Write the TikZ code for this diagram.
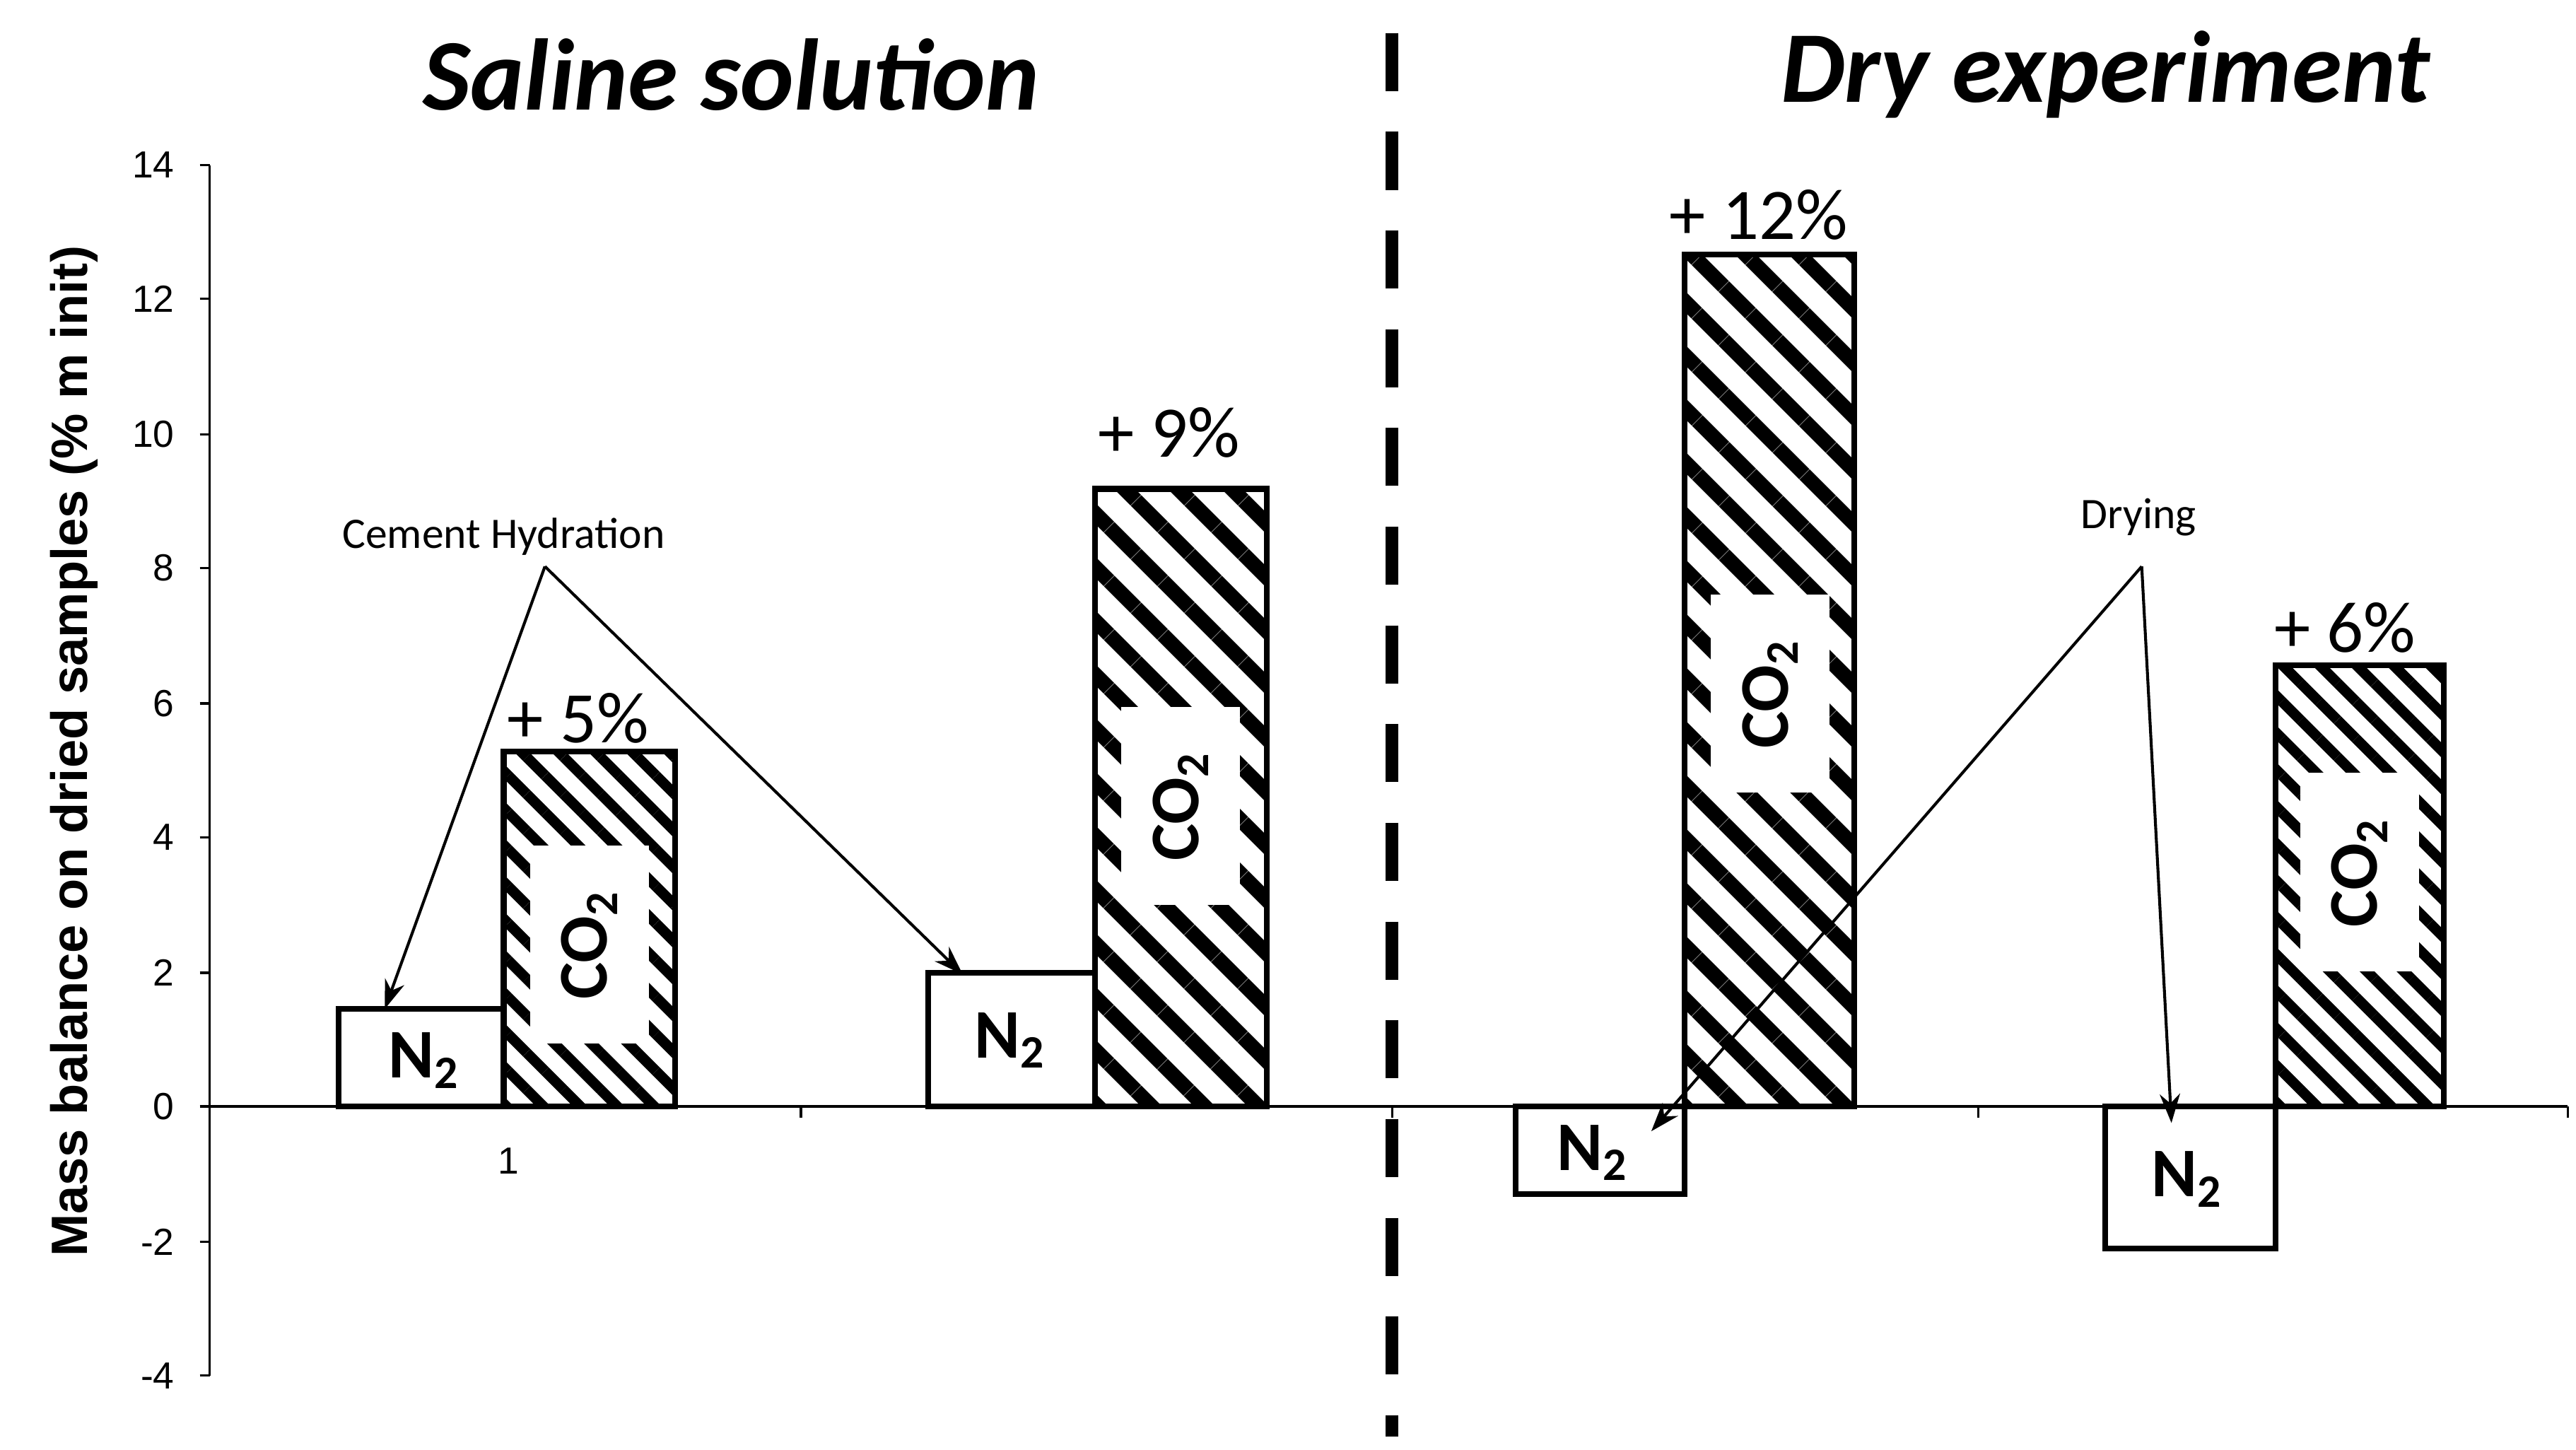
\documentclass[tikz,border=0pt]{standalone}
\usepackage{fontspec}
\setmainfont{Carlito}
\newfontfamily\arialf{Liberation Sans}
\usetikzlibrary{patterns.meta,arrows.meta}
\begin{document}
\begin{tikzpicture}[x=0.01cm,y=-0.01cm,
    bar/.style={draw=black, line width=1pt, fill=white},
    hatch/.style={draw=black, line width=1pt, pattern={Lines[angle=-45,distance=6.5pt,line width=2.6pt]}},
    fine-hatch/.style={draw=black, line width=1pt, pattern={Lines[angle=-45,distance=4.5pt,line width=1.8pt]}},
    gas/.style={font=\fontsize{12}{13}\selectfont\bfseries},
    co-label/.style={fill=white, rotate=90, inner sep=2pt, minimum width=1.2cm, minimum height=0.72cm, font=\fontsize{12}{13}\selectfont\bfseries},
    pct/.style={font=\fontsize{12.5}{14}\selectfont},
    tick-label/.style={anchor=east, font=\arialf\fontsize{6.5}{7}\selectfont},
    note/.style={font=\fontsize{7.5}{8}\selectfont},
    leader/.style={line width=0.5pt, -{Stealth[length=5pt,width=3.5pt]}}
  ]
  \useasboundingbox (0,0) rectangle (1560,878);

  % Axes
  \draw[line width=0.4pt] (127,100) -- (127,833);
  \foreach \v/\py in {14/100,12/181,10/263,8/344,6/426,4/507,2/589,0/670,-2/752,-4/833} {
    \draw[line width=0.4pt] (121,\py) -- (127,\py);
    \node[tick-label] at (118,\py) {\v};
  }
  \draw[line width=0.4pt] (127,670) -- (1555,670);
  \foreach \px in {485,843,1198,1555}
    \draw[line width=0.4pt] (\px,670) -- (\px,677);
  \node[font=\arialf\fontsize{6.5}{7}\selectfont] at (308,703) {1};
  \node[rotate=90, font=\arialf\fontsize{8.8}{10}\selectfont\bfseries] at (45,455) {Mass balance on dried samples (\% m init)};

  % Separator and titles
  \draw[line width=2.2pt, dash pattern=on 10pt off 7pt] (843,20) -- (843,870);
  \node[font=\fontsize{17.5}{20}\selectfont\bfseries\itshape] (saline) at (443,45) {Saline solution};
  \node[font=\fontsize{17.5}{20}\selectfont\bfseries\itshape] (dry) at (1275,45) {Dry experiment};

  % Bars
  \draw[bar] (205,670) rectangle (305,611);
  \draw[fine-hatch] (305,670) rectangle (409,455);
  \draw[bar] (562,670) rectangle (663,589);
  \draw[hatch] (663,670) rectangle (767,296);
  \draw[bar] (918,670) rectangle (1020,723);
  \draw[hatch] (1020,670) rectangle (1123,154);
  \draw[bar] (1275,670) rectangle (1378,756);
  \draw[fine-hatch] (1378,670) rectangle (1480,403);

  % Bar labels
  \node[gas] (n-a) at (257,642) {N\textsubscript{2}};
  \node[gas] (n-b) at (612,630) {N\textsubscript{2}};
  \node[gas] (n-c) at (965,698) {N\textsubscript{2}};
  \node[gas] (n-d) at (1325,714) {N\textsubscript{2}};
  \node[co-label] (co-a) at (357,572) {CO\textsubscript{2}};
  \node[co-label] (co-b) at (715,488) {CO\textsubscript{2}};
  \node[co-label] (co-c) at (1072,420) {CO\textsubscript{2}};
  \node[co-label] (co-d) at (1429,528) {CO\textsubscript{2}};
  \node[pct] (pct-a) at (350,435) {+ 5\%};
  \node[pct] (pct-b) at (708,262) {+ 9\%};
  \node[pct] (pct-c) at (1065,130) {+ 12\%};
  \node[pct] (pct-d) at (1420,380) {+ 6\%};

  % Annotations
  \node[note] (hydration) at (305,325) {Cement Hydration};
  \node[note] (drying) at (1295,313) {Drying};
  \coordinate (hyd-root) at (330,343);
  \coordinate (dry-root) at (1297,343);
  \coordinate (hyd-a) at (233,611);
  \coordinate (hyd-b) at (583,590);
  \coordinate (dry-a) at (1000,685);
  \coordinate (dry-b) at (1315,680);
  \draw[leader] (hyd-root) -- (hyd-a);
  \draw[leader] (hyd-root) -- (hyd-b);
  \draw[leader] (dry-root) -- (dry-a);
  \draw[leader] (dry-root) -- (dry-b);
\end{tikzpicture}
\end{document}
